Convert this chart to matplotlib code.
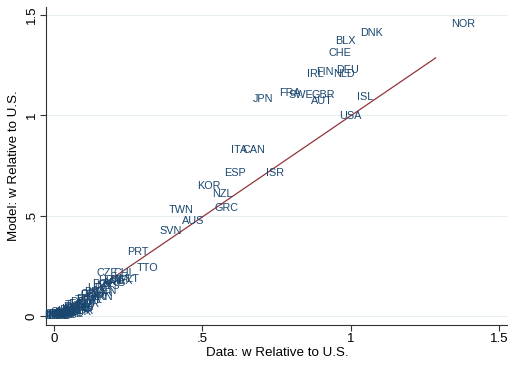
import matplotlib
matplotlib.use("Agg")
import matplotlib.pyplot as plt
from matplotlib.ticker import FixedLocator

plt.rcParams['font.family'] = ['Liberation Sans', 'DejaVu Sans']

# country labels, data (x) and model (y) wage relative to the U.S.
codes = ["NOR", "DNK", "BLX", "CHE", "DEU", "NLD", "FIN", "IRL", "JPN", "FRA",
         "SWE", "GBR", "AUT", "ISL", "USA", "ITA", "CAN", "ESP", "ISR", "KOR",
         "NZL", "GRC", "TWN", "AUS", "SVN", "PRT", "TTO", "CZE", "CHL",
         "MEX", "ARG", "HUN", "POL", "MYS", "URY", "BRA", "TUR", "VEN", "ROU",
         "CRI", "PAN", "IRN", "BWA", "THA", "COL", "DOM", "PER", "ECU", "JAM",
         "TUN", "EGY", "CHN", "IDN", "PHL", "BOL", "GTM", "PRY", "SLV", "HND",
         "IND", "PAK", "LKA", "SEN", "KEN", "GHA", "CMR", "NGA", "ZWE", "BGD",
         "NPL", "UGA", "MOZ", "ETH", "MWI", "TZA", "ZMB", "NIC", "SYR", "JOR",
         "MAR", "ZAF", "MLT"]
data_w = [1.377, 1.071, 0.983, 0.963, 0.990, 0.976, 0.912, 0.882, 0.704, 0.795,
          0.832, 0.906, 0.902, 1.047, 1.000, 0.623, 0.673, 0.609, 0.744, 0.522,
          0.566, 0.582, 0.428, 0.468, 0.394, 0.283, 0.316, 0.178, 0.236,
          0.225, 0.205, 0.190, 0.165, 0.180, 0.150, 0.140, 0.160, 0.175, 0.130,
          0.120, 0.140, 0.165, 0.115, 0.105, 0.125, 0.095, 0.115, 0.085, 0.095,
          0.075, 0.068, 0.072, 0.058, 0.052, 0.062, 0.082, 0.090, 0.105, 0.048,
          0.040, 0.034, 0.044, 0.030, 0.025, 0.020, 0.030, 0.015, 0.058, 0.020,
          0.012, 0.010, 0.008, 0.005, 0.007, 0.010, 0.040, 0.068, 0.088, 0.098,
          0.078, 0.215, 0.250]
model_w = [1.456, 1.411, 1.372, 1.312, 1.227, 1.207, 1.217, 1.207, 1.082, 1.112,
           1.102, 1.102, 1.072, 1.092, 0.998, 0.828, 0.828, 0.713, 0.713, 0.648,
           0.608, 0.539, 0.529, 0.474, 0.424, 0.319, 0.239, 0.214, 0.214,
           0.175, 0.165, 0.172, 0.160, 0.150, 0.140, 0.120, 0.115, 0.125, 0.105,
           0.112, 0.095, 0.095, 0.085, 0.078, 0.082, 0.068, 0.062, 0.058, 0.050,
           0.053, 0.045, 0.040, 0.035, 0.030, 0.025, 0.035, 0.040, 0.040, 0.020,
           0.020, 0.015, 0.025, 0.010, 0.008, 0.010, 0.020, 0.005, 0.010, 0.000,
           0.003, 0.002, -0.002, 0.000, 0.004, 0.010, 0.005, 0.015, 0.020, 0.025,
           0.030, 0.180, 0.182]

# fitted line
fit_x = [0.01, 1.286]
fit_y = [0.0, 1.287]

ticks = [0, 0.5, 1, 1.5]
tick_labels = ["0", ".5", "1", "1.5"]

navy = "#1a476f"
maroon = "#90353b"

fig = plt.figure(figsize=(5.08, 3.66), dpi=100)
ax = fig.add_axes([0.0906, 0.112, 0.909, 0.869])

for c, x, y in zip(codes, data_w, model_w):
    ax.text(x, y, c, color=navy, fontsize=7.8, ha="center", va="center",
            clip_on=False)
ax.plot(fit_x, fit_y, color=maroon, lw=0.9)

ax.set_xlim(-0.027, 1.529)
ax.set_ylim(-0.045, 1.541)
ax.xaxis.set_major_locator(FixedLocator(ticks))
ax.yaxis.set_major_locator(FixedLocator(ticks))
ax.set_xticklabels(tick_labels)
ax.set_yticklabels(tick_labels, rotation=90, va="center")
ax.tick_params(labelsize=9.5, length=4, width=0.8, color="#333333", pad=2)
ax.grid(axis="y", color="#e6eeef", lw=0.8)
ax.set_axisbelow(True)
for s in ["top", "right"]:
    ax.spines[s].set_visible(False)
for s in ["left", "bottom"]:
    ax.spines[s].set_color("#333333")
    ax.spines[s].set_linewidth(0.8)

ax.set_xlabel("Data: w Relative to U.S.", fontsize=9.6, labelpad=1)
ax.set_ylabel("Model: w Relative to U.S.", fontsize=9.6, labelpad=4)

fig.savefig("out.png", dpi=100)
